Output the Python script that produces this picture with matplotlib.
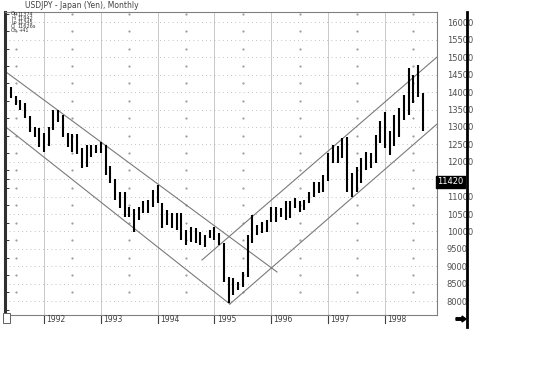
import numpy as np
import matplotlib
matplotlib.use("Agg")
import matplotlib.pyplot as plt
from matplotlib.lines import Line2D
from matplotlib.patches import FancyArrow, Rectangle
from matplotlib.transforms import IdentityTransform, blended_transform_factory

# monthly bars, June 1991 .. September 1998 (price in 1/100 yen)
first_year, first_month = 1991, 6
highs = [14150, 13890, 13780, 13690, 13320, 13000, 12970, 12830, 13000, 13490,
         13490, 13350, 12830, 12800, 12800, 12400, 12480, 12480, 12480, 12570,
         12480, 11880, 11500, 11130, 11130, 10700, 10650, 10710, 10860, 10900,
         11190, 11340, 10810, 10620, 10520, 10520, 10520, 10040, 10140, 10090,
         9990, 9900, 10040, 10140, 9950, 9660, 8700, 8650, 8560, 8840,
         9900, 10470, 10190, 10280, 10330, 10710, 10710, 10670, 10860, 10860,
         10950, 10860, 10900, 11140, 11430, 11430, 11620, 12250, 12490, 12440,
         12680, 12720, 11670, 11860, 12100, 12290, 12250, 12770, 13160, 13440,
         12870, 13350, 13540, 13920, 14690, 14500, 14780, 13970]
lows = [13830, 13630, 13490, 13260, 12860, 12710, 12430, 12280, 12460, 12920,
        13150, 12710, 12430, 12280, 12220, 11820, 11850, 12140, 12250, 12250,
        11620, 11390, 10900, 10670, 10410, 10410, 9990, 10330, 10520, 10520,
        10710, 10810, 10090, 10190, 10090, 10040, 9760, 9610, 9710, 9660,
        9610, 9560, 9800, 9760, 9610, 8560, 7940, 8170, 8320, 8410,
        8700, 9660, 9900, 9950, 9990, 10280, 10280, 10420, 10330, 10380,
        10670, 10570, 10620, 10810, 11000, 11100, 11140, 11450, 11960, 11960,
        12100, 11140, 11000, 11140, 11380, 11770, 11820, 11960, 12530, 12390,
        12200, 12440, 12720, 13200, 13350, 13690, 13870, 12870]

# channel lines: (year, price) end points
channel_lines = [
    [(1991.28, 14640), (1996.10, 8835)],
    [(1991.28, 13060), (1995.27, 7915)],
    [(1994.78, 9180), (1998.92, 15014)],
    [(1995.27, 7915), (1998.92, 13089)],
]

years = [1992, 1993, 1994, 1995, 1996, 1997, 1998]
price_levels = list(range(8000, 16001, 500))
last_price = 11420
title = "USDJPY - Japan (Yen), Monthly"
info_keys = ["Op", "Hi", "Lo", "Cl", "Ch"]
info_vals = ["11374", "11942", "11345", "11626s", "+41"]

W, H = 541, 367
fig = plt.figure(figsize=(W / 100, H / 100), dpi=100)
ax = fig.add_axes([5 / W, 1 - 315 / H, (437 - 5) / W, (315 - 12) / H])

dates = [first_year + (first_month - 1 + i) / 12 for i in range(len(highs))]

ax.set_xlim(1991.314, 1998.915)
ax.set_ylim(7600, 16300)

# grid
for yr in years:
    ax.axvline(yr, color="#c0c0c0", lw=0.6, zorder=0)
for lv in price_levels:
    ax.axhline(lv, color="#a8a8a8", lw=0.7, ls=(0, (0.7, 3.6)), zorder=0)
mid_x = [y + 0.5 for y in range(1991, 1999)]
mid_y = [lv + 250 for lv in price_levels]
mx, my = np.meshgrid(mid_x, mid_y)
ax.plot(mx.ravel(), my.ravel(), ls="none", marker="s", ms=0.6, color="#a0a0a0", zorder=0)

# channels
for (x0, y0), (x1, y1) in channel_lines:
    ax.plot([x0, x1], [y0, y1], color="#7a7a7a", lw=0.8, zorder=1)

# bars
ax.vlines(dates, lows, highs, color="black", lw=1.5, zorder=2)

# axes styling
for side in ["top", "right", "bottom"]:
    ax.spines[side].set_color("#808080")
    ax.spines[side].set_linewidth(0.8)
ax.spines["left"].set_color("#303030")
ax.spines["left"].set_linewidth(2.2)

ax.set_xticks([])
ax.yaxis.tick_right()
shown = [lv for lv in price_levels if lv != 11500]
ax.set_yticks(shown)
ax.set_yticklabels([str(lv) for lv in shown], fontsize=6, color="#505050")
ax.tick_params(axis="y", which="major", length=0, pad=7)
ax.set_yticks(list(range(7750, 16300, 250)), minor=True)
ax.tick_params(axis="y", which="minor", left=True, right=False, direction="in",
               length=3, width=0.7, color="#303030")

# last price box
ax.text(1.0, last_price, str(last_price), transform=blended_transform_factory(ax.transAxes, ax.transData),
        fontsize=6, color="white", va="center", ha="left",
        bbox=dict(boxstyle="square,pad=0.15", fc="black", ec="black"))

# year labels and ticks
trans = blended_transform_factory(ax.transData, ax.transAxes)
for yr in years:
    ax.plot([yr, yr], [0, -0.028], transform=trans, color="#404040", lw=0.8, clip_on=False)
    ax.text(yr + 0.04, -0.014, str(yr), transform=trans, fontsize=5.5, color="#404040",
            ha="left", va="center")

# title and info block
fig.text(25 / W, 1 - 5 / H, title, fontsize=5.5, color="#404040", ha="left", va="center")
for i, (k, v) in enumerate(zip(info_keys, info_vals)):
    yy = 1 - (14 + 4.2 * i) / H
    fig.text(11 / W, yy, k, fontsize=3.6, color="#303030", ha="left", va="center")
    fig.text(18 / W, yy, v, fontsize=3.6, color="#303030", ha="left", va="center")

# right-hand bar, arrow and corner box
fig.add_artist(Line2D([467 / W, 467 / W], [1 - 12 / H, 1 - 327 / H], color="black", lw=2))
fig.add_artist(FancyArrow(456, H - 319, 6, 0, width=2.5, head_width=6, head_length=4,
                          length_includes_head=False, transform=IdentityTransform(), color="black"))
fig.add_artist(Rectangle((3, H - 323), 7, 10, transform=IdentityTransform(),
                         fc="white", ec="#606060", lw=0.7))

fig.savefig("out.png", dpi=100)
